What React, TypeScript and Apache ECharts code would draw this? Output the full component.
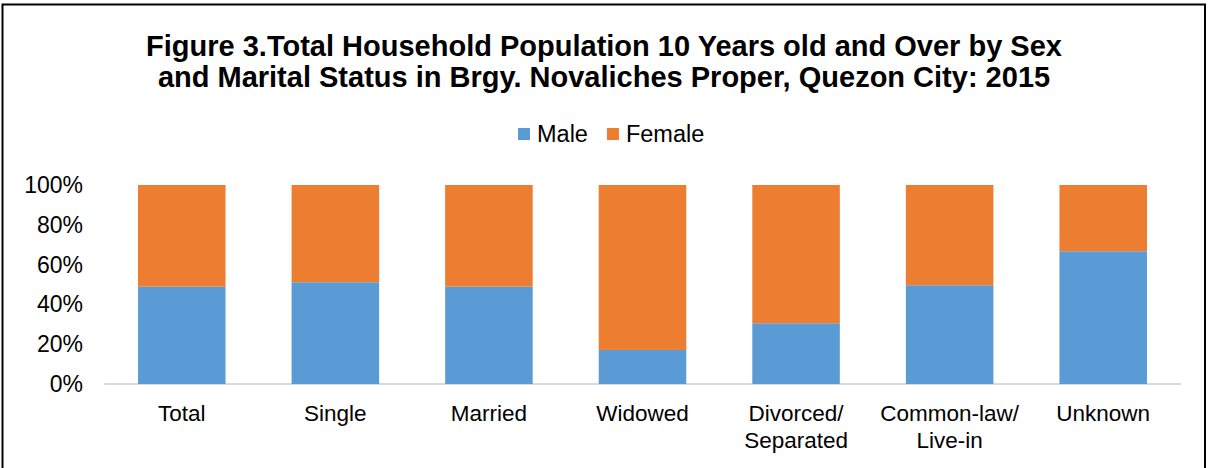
import React, { useEffect, useRef } from "react";
import * as echarts from "echarts";

const categories = ["Total", "Single", "Married", "Widowed", "Divorced/\nSeparated", "Common-law/\nLive-in", "Unknown"];
const maleShare = [48.9, 51.1, 48.9, 17.1, 30.5, 49.6, 66.7];
const femaleShare = [51.1, 48.9, 51.1, 82.9, 69.5, 50.4, 33.3];
const yTicks = [0, 20, 40, 60, 80, 100];
const titleText = "Figure 3.Total Household Population 10 Years old and Over by Sex\nand Marital Status in Brgy. Novaliches Proper, Quezon City: 2015";

export default function App() {
  const ref = useRef<HTMLDivElement>(null);
  useEffect(() => {
    const chart = echarts.init(ref.current!, null, { renderer: "svg" });
    const font = "'Liberation Sans', Arial, sans-serif";
    chart.setOption({
      animation: false,
      backgroundColor: "#ffffff",
      textStyle: { fontFamily: font },
      title: {
        text: titleText,
        left: "center",
        top: 25,
        textStyle: { fontFamily: font, fontSize: 29, fontWeight: "bold", color: "#000", lineHeight: 31 },
      },
      legend: {
        top: 117,
        left: 513,
        itemWidth: 12,
        itemHeight: 12,
        itemGap: 19,
        icon: "rect",
        textStyle: { fontFamily: font, fontSize: 23.5, color: "#000", padding: [0, 0, 0, 2] },
        data: ["Male", "Female"],
      },
      grid: { left: 105, right: 28, top: 185, bottom: 84, containLabel: false },
      xAxis: {
        type: "category",
        data: categories,
        axisLine: { lineStyle: { color: "#d9d9d9", width: 2 } },
        axisTick: { show: false },
        axisLabel: { fontFamily: font, fontSize: 22.5, color: "#000", margin: 16, lineHeight: 27, interval: 0 },
      },
      yAxis: {
        type: "value",
        min: yTicks[0],
        max: yTicks[yTicks.length - 1],
        interval: 20,
        splitLine: { show: false },
        axisLine: { show: false },
        axisTick: { show: false },
        axisLabel: { fontFamily: font, fontSize: 23, color: "#000", margin: 22, formatter: (v: number) => v + "%" },
      },
      series: [
        {
          name: "Male",
          type: "bar",
          stack: "total",
          data: maleShare,
          barWidth: "57%",
          itemStyle: { color: "#5b9bd5" },
        },
        {
          name: "Female",
          type: "bar",
          stack: "total",
          data: femaleShare,
          barWidth: "57%",
          itemStyle: { color: "#ed7d31" },
        },
      ],
      graphic: [
        {
          type: "rect",
          shape: { x: 2.5, y: 4.5, width: 1202.5, height: 480 },
          style: { fill: "none", stroke: "#000", lineWidth: 2 },
          silent: true,
        },
      ],
    });
    return () => chart.dispose();
  }, []);
  return <div ref={ref} style={{ position: "fixed", left: 0, top: 0, width: 1208, height: 468 }} />;
}
